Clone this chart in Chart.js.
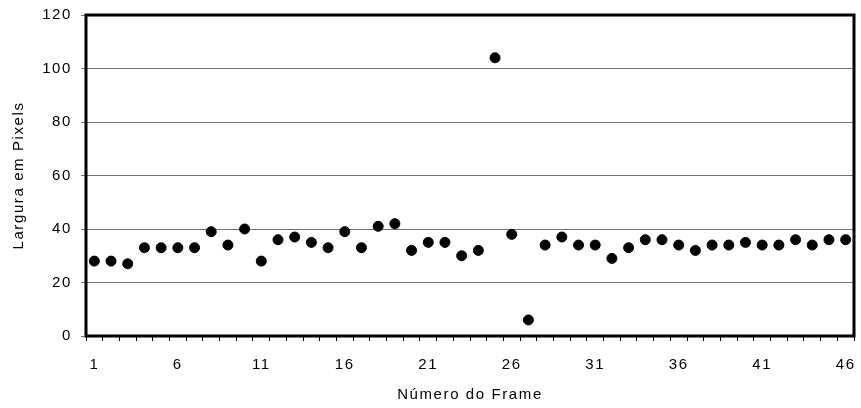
<!DOCTYPE html>
<html><head><meta charset="utf-8">
<script src="https://cdn.jsdelivr.net/npm/chart.js@4"></script>
<style>html,body{margin:0;padding:0;background:#fff}#wrap{width:861px;height:408px}</style>
</head><body><div id="wrap"><canvas id="c" width="861" height="408"></canvas></div>
<script>
const frames = Array.from({length:46},(_,i)=>String(i+1));
const widths = [28,28,27,33,33,33,33,39,34,40,28,36,37,35,33,39,33,41,42,32,35,35,30,32,104,38,6,34,37,34,34,29,33,36,36,34,32,34,34,35,34,34,36,34,36,36];
const yTicks = [0,20,40,60,80,100,120];
const xTitle = 'Número do Frame';
const yTitle = 'Largura em Pixels';

const borderPlugin = {
  id:'plotBorder',
  beforeDraw(chart){ chart.ctx.letterSpacing = '1.6px'; },
  beforeDatasetsDraw(chart){
    const a = chart.chartArea, ctx = chart.ctx;
    ctx.save(); ctx.strokeStyle='#000'; ctx.lineWidth=3;
    ctx.strokeRect(a.left, a.top, a.right-a.left, a.bottom-a.top);
    ctx.restore();
  }
};
const font = {family:'"Liberation Sans", Arial, sans-serif', size:15};
new Chart(document.getElementById('c'),{
  type:'line',
  data:{labels:frames,datasets:[{data:widths,showLine:false,pointRadius:5,pointHoverRadius:5,pointBackgroundColor:'#000',pointBorderColor:'#000',borderColor:'#000',backgroundColor:'#000'}]},
  options:{
    responsive:false,animation:false,
    layout:{padding:{top:15,right:7,left:0,bottom:0}},
    plugins:{legend:{display:false},tooltip:{enabled:false}},
    scales:{
      x:{
        offset:true,
        grid:{offset:true,drawOnChartArea:false,drawTicks:true,tickLength:5,color:'#000',lineWidth:1},
        border:{display:false},
        ticks:{color:'#000',font,maxRotation:0,autoSkip:false,padding:15,
          callback:function(v,i){return (i%5===0)?frames[i]:'';}},
        title:{display:true,text:xTitle,color:'#000',font,padding:{top:0,bottom:4}},
        afterFit(s){s.height=72;s.paddingLeft=0;s.paddingRight=0;}
      },
      y:{
        min:0,max:120,
        afterBuildTicks(s){s.ticks=yTicks.map(v=>({value:v}));},
        grid:{color:'#707070',lineWidth:1,tickLength:5,drawTicks:true},
        border:{display:false},
        ticks:{color:'#000',font,padding:9},
        title:{display:true,text:yTitle,color:'#000',font,padding:{top:10,bottom:0}},
        afterFit(s){s.width=86;s.paddingTop=0;s.paddingBottom=0;}
      }
    }
  },
  plugins:[borderPlugin]
});
</script></body></html>
